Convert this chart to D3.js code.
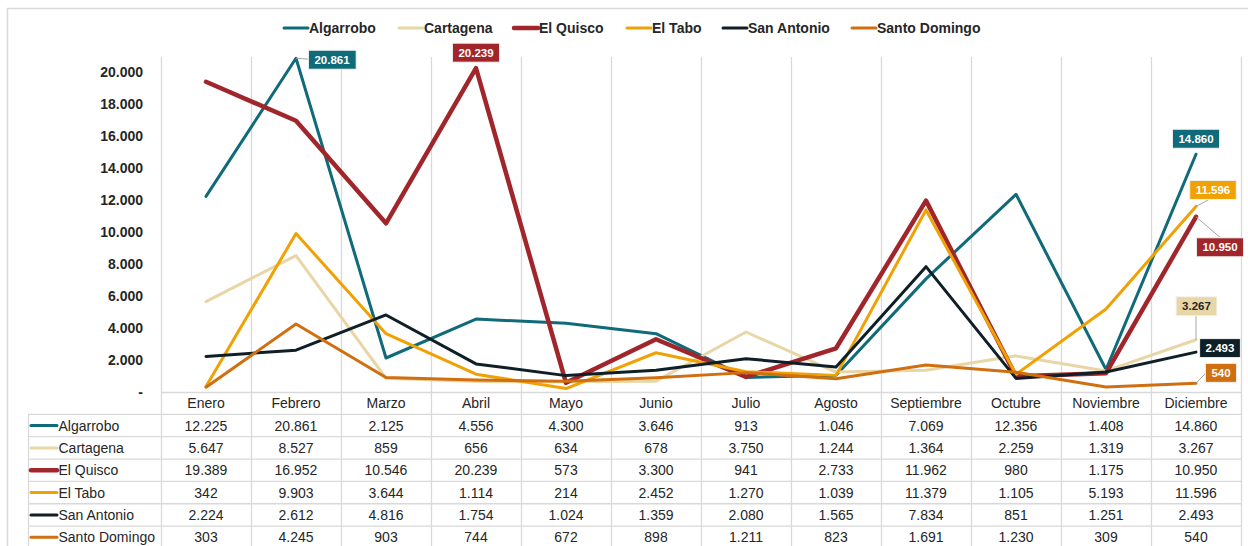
<!DOCTYPE html>
<html><head><meta charset="utf-8">
<script src="https://cdn.jsdelivr.net/npm/d3@7"></script>
<style>
html,body{margin:0;padding:0;background:#fff;}
svg{display:block;font-family:"Liberation Sans",Arial,sans-serif;}
</style></head>
<body>
<svg id="chart" width="1248" height="546"></svg>
<script>
const months = ["Enero","Febrero","Marzo","Abril","Mayo","Junio","Julio","Agosto","Septiembre","Octubre","Noviembre","Diciembre"];
const seriesNames = ["Algarrobo","Cartagena","El Quisco","El Tabo","San Antonio","Santo Domingo"];
const algarrobo = [12225,20861,2125,4556,4300,3646,913,1046,7069,12356,1408,14860];
const cartagena = [5647,8527,859,656,634,678,3750,1244,1364,2259,1319,3267];
const elQuisco = [19389,16952,10546,20239,573,3300,941,2733,11962,980,1175,10950];
const elTabo = [342,9903,3644,1114,214,2452,1270,1039,11379,1105,5193,11596];
const sanAntonio = [2224,2612,4816,1754,1024,1359,2080,1565,7834,851,1251,2493];
const santoDomingo = [303,4245,903,744,672,898,1211,823,1691,1230,309,540];
const yTicks = [0,2000,4000,6000,8000,10000,12000,14000,16000,18000,20000];

const seriesValues = [algarrobo,cartagena,elQuisco,elTabo,sanAntonio,santoDomingo];
const colors = ["#0f6a79","#e8d6a6","#a1262b","#f0a104","#0e1f27","#d06f10"];
const widths = [3,3,4.5,3,3,3];

// data labels: series index, month index, label box centre offset from point, leader end offset
const labels = [
  {s:0,m:1,dx:36,dy:1.5,lead:[13,1]},
  {s:2,m:3,dx:0,dy:-15.5,lead:null},
  {s:0,m:11,dx:0,dy:-15.5,lead:null},
  {s:3,m:11,dx:17,dy:-16.5,lead:[14,-7.5]},
  {s:2,m:11,dx:24,dy:30.5,lead:[24,20.5]},
  {s:1,m:11,dx:0.5,dy:-33.5,lead:[0,-24.5]},
  {s:4,m:11,dx:24,dy:-4,lead:null},
  {s:5,m:11,dx:25,dy:-10.5,lead:[10,-10.5]}
];

const svg = d3.select("#chart");
const fmtRaw = d3.formatLocale({decimal:",",thousands:".",grouping:[3],currency:["$",""]}).format(",d");
const fmt = v => v === 0 ? "-" : fmtRaw(v);

const plotLeft = 161, plotRight = 1241, plotTop = 57;
const x = d3.scaleBand().domain(months).range([plotLeft,plotRight]).padding(0);
const y = d3.scaleLinear().domain([0,20000]).range([392,72]);
const cx = m => x(m) + x.bandwidth()/2;
const grid = "#d9d9d9";

// outer frame
svg.append("line").attr("x1",7.5).attr("x2",7.5).attr("y1",8).attr("y2",546).attr("stroke",grid).attr("stroke-width",1.5);
svg.append("line").attr("x1",7).attr("x2",1248).attr("y1",8.5).attr("y2",8.5).attr("stroke",grid).attr("stroke-width",1.5);

// vertical gridlines (category boundaries)
const bounds = months.map(m => x(m)).concat([plotRight]);
svg.append("g").selectAll("line").data(bounds).join("line")
  .attr("x1",d=>d+0.5).attr("x2",d=>d+0.5).attr("y1",plotTop).attr("y2",546)
  .attr("stroke",grid).attr("stroke-width",1.3);

// table
const rowH = 22.35, tableTop = 392;
svg.append("line").attr("x1",plotLeft).attr("x2",plotRight).attr("y1",tableTop+0.5).attr("y2",tableTop+0.5).attr("stroke",grid).attr("stroke-width",1.3);
const rowLines = d3.range(seriesNames.length+1).map(i => tableTop + rowH*(i+1));
svg.append("g").selectAll("line").data(rowLines).join("line")
  .attr("x1",28).attr("x2",plotRight).attr("y1",d=>d).attr("y2",d=>d)
  .attr("stroke",grid).attr("stroke-width",1.3);
svg.append("line").attr("x1",28.5).attr("x2",28.5).attr("y1",tableTop+rowH).attr("y2",546).attr("stroke",grid).attr("stroke-width",1.3);

// month header
svg.append("g").selectAll("text").data(months).join("text")
  .attr("x",d=>cx(d)).attr("y",tableTop+rowH/2+5).attr("text-anchor","middle")
  .attr("font-size",14).attr("fill","#262626").text(d=>d);

// rows
seriesNames.forEach((name,i)=>{
  const ry = tableTop + rowH*(i+1) + rowH/2;
  svg.append("line").attr("x1",31).attr("x2",57).attr("y1",ry).attr("y2",ry)
    .attr("stroke",colors[i]).attr("stroke-width",widths[i]).attr("stroke-linecap","round");
  svg.append("text").attr("x",58.5).attr("y",ry+5).attr("font-size",14).attr("fill","#262626").text(name);
  svg.append("g").selectAll("text").data(seriesValues[i]).join("text")
    .attr("x",(d,j)=>cx(months[j])).attr("y",ry+5).attr("text-anchor","middle")
    .attr("font-size",14).attr("fill","#262626").text(d=>fmt(d));
});

// y axis
const yAxis = svg.append("g").attr("transform",`translate(${plotLeft},0)`)
  .call(d3.axisLeft(y).tickValues(yTicks).tickFormat(fmt).tickSize(0).tickPadding(18));
yAxis.select(".domain").remove();
yAxis.selectAll("text").attr("font-size",14).attr("font-weight","bold").attr("fill","#262626")
  .attr("font-family","'Liberation Sans',Arial,sans-serif");

// lines
const line = d3.line().x((d,j)=>cx(months[j])).y(d=>y(d));
seriesValues.forEach((vals,i)=>{
  svg.append("path").datum(vals).attr("d",line).attr("fill","none")
    .attr("stroke",colors[i]).attr("stroke-width",widths[i]).attr("stroke-linejoin","round").attr("stroke-linecap","round");
});

// data labels
labels.forEach(l=>{
  const v = seriesValues[l.s][l.m];
  const px = cx(months[l.m]), py = y(v);
  const g = svg.append("g");
  if(l.lead){
    g.append("line").attr("x1",px).attr("y1",py).attr("x2",px+l.lead[0]).attr("y2",py+l.lead[1])
      .attr("stroke","#a6a6a6").attr("stroke-width",1);
  }
  const t = g.append("text").attr("x",px+l.dx).attr("y",py+l.dy+4).attr("text-anchor","middle")
    .attr("font-size",11.5).attr("font-weight","bold")
    .attr("fill", l.s===1 ? "#262626" : "#ffffff").text(fmt(v));
  const bb = t.node().getBBox();
  g.insert("rect","text").attr("x",bb.x-6).attr("y",py+l.dy-9.5).attr("width",bb.width+12).attr("height",19)
    .attr("fill",colors[l.s]).attr("stroke","#f2f2f2").attr("stroke-width",1);
});

// legend
const legendX = [283,398,513,626,722,851];
seriesNames.forEach((name,i)=>{
  svg.append("line").attr("x1",legendX[i]+1).attr("x2",legendX[i]+25).attr("y1",28).attr("y2",28)
    .attr("stroke",colors[i]).attr("stroke-width",widths[i]).attr("stroke-linecap","round");
  svg.append("text").attr("x",legendX[i]+26).attr("y",33).attr("font-size",14).attr("font-weight","bold")
    .attr("fill","#262626").text(name);
});
</script>
</body></html>
